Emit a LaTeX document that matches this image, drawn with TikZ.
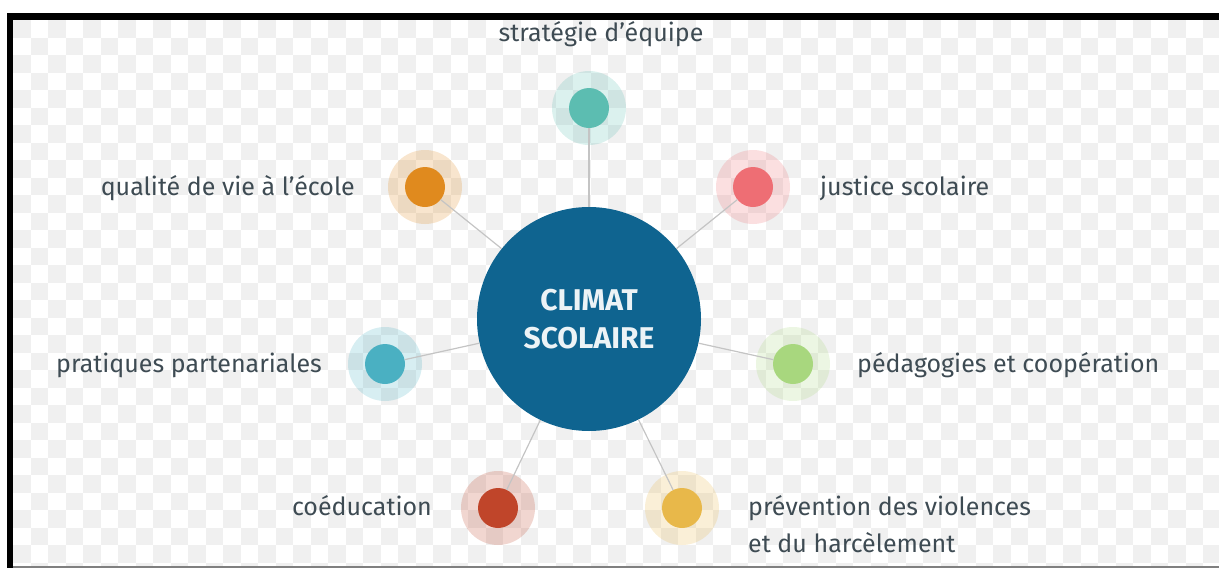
\documentclass[tikz,border=0pt]{standalone}
\usepackage{fontspec}
\setmainfont{Fira Sans}
\usetikzlibrary{positioning}

\definecolor{climblue}{HTML}{0F6490}
\definecolor{txtgray}{HTML}{3E4B53}
\definecolor{linegray}{HTML}{C4C4C4}
\definecolor{cteal}{HTML}{5CBDB1}
\definecolor{corange}{HTML}{E08A1E}
\definecolor{cpink}{HTML}{EE6E74}
\definecolor{ccyan}{HTML}{4AB0C2}
\definecolor{cgreen}{HTML}{A8D77E}
\definecolor{cred}{HTML}{C0452A}
\definecolor{cyellow}{HTML}{E8B84A}

\tikzset{
    halo/.style={circle, fill=#1, fill opacity=0.22, minimum size=74pt, inner sep=0pt},
    dot/.style={circle, fill=#1, minimum size=40pt, inner sep=0pt},
    lbl/.style={text=txtgray, font=\fontsize{25}{37}\selectfont, inner sep=0pt, align=left},
    link/.style={linegray, line width=1.2pt}
}

\begin{document}
\begin{tikzpicture}[x=1pt,y=-1pt]
    \useasboundingbox (0,0) rectangle (1219,568);

    % checkered background
    \begin{scope}
        \clip (13,20) rectangle (1219,566);
        \foreach \i in {0,...,69}
            \foreach \j in {0,...,31} {
                \pgfmathtruncatemacro\k{\i+\j}
                \ifodd\k\else
                    \fill[gray!12] (13+17.5*\i,20+17.5*\j) rectangle ++(17.5,17.5);
                \fi
            }
    \end{scope}

    % frame
    \fill[black] (7,13) rectangle (1219,20);
    \fill[black] (7,13) rectangle (13,568);
    \draw[gray, line width=1.5pt] (13,567) -- (1219,567);

    % halos
    \node[halo=cteal]   (hstrat) at (589,108) {};
    \node[halo=corange] (hqual)  at (425,187) {};
    \node[halo=cpink]   (hjust)  at (753,187) {};
    \node[halo=ccyan]   (hprat)  at (385,364) {};
    \node[halo=cgreen]  (hpeda)  at (793,364) {};
    \node[halo=cred]    (hcoed)  at (498,508) {};
    \node[halo=cyellow] (hprev)  at (682,508) {};

    % center
    \node[circle, fill=climblue, minimum size=224pt, inner sep=0pt, align=center,
          text=white!92!climblue, font=\fontsize{30}{38}\selectfont\bfseries]
          (clim) at (589,319) {CLIMAT\\SCOLAIRE};

    % dots
    \node[dot=cteal]   (strat) at (hstrat) {};
    \node[dot=corange] (qual)  at (hqual) {};
    \node[dot=cpink]   (just)  at (hjust) {};
    \node[dot=ccyan]   (prat)  at (hprat) {};
    \node[dot=cgreen]  (peda)  at (hpeda) {};
    \node[dot=cred]    (coed)  at (hcoed) {};
    \node[dot=cyellow] (prev)  at (hprev) {};

    \foreach \n in {strat,qual,just,prat,peda,coed,prev}
        \draw[link] (clim) -- (\n);

    % labels
    \node[lbl, anchor=base]      (lstrat) at (601,41)  {stratégie d'équipe};
    \node[lbl, anchor=base east] (lqual)  at (355,195) {qualité de vie à l'école};
    \node[lbl, anchor=base west] (ljust)  at (820,195) {justice scolaire};
    \node[lbl, anchor=base east] (lprat)  at (322,372) {pratiques partenariales};
    \node[lbl, anchor=base west] (lpeda)  at (857,372) {pédagogies et coopération};
    \node[lbl, anchor=base east] (lcoed)  at (432,515) {coéducation};
    \node[lbl, anchor=base west] (lprev)  at (748,552) {prévention des violences\\et du harcèlement};
\end{tikzpicture}
\end{document}
